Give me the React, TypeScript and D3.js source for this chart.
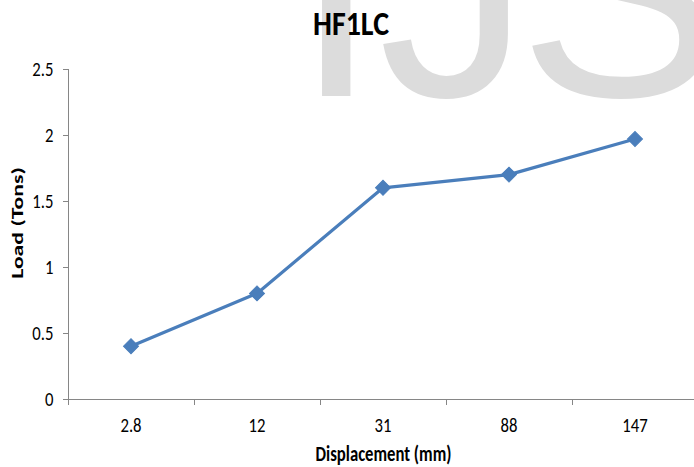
import React from "react";
import * as d3 from "d3";

const categories = ["2.8", "12", "31", "88", "147"];
const loadValues = [0.4, 0.8, 1.6, 1.7, 1.97];
const yTicks = [0, 0.5, 1, 1.5, 2, 2.5];
const yTickLabels = ["0", "0.5", "1", "1.5", "2", "2.5"];
const title = "HF1LC";
const xTitle = "Displacement (mm)";
const yTitle = "Load (Tons)";

const W = 694;
const H = 467;
const LEFT = 68;
const RIGHT = 698;
const TOP = 69;
const BOTTOM = 399;
const FONT = "Carlito, Calibri, 'Liberation Sans Narrow', sans-serif";
const AXIS = "#868686";
const BLUE = "#4a7ebb";
const SY = 1.28; // vertical stretch of the reference's text

export default function App() {
  const x = d3.scaleBand<string>().domain(categories).range([LEFT, RIGHT]).padding(0);
  const y = d3.scaleLinear().domain([0, 2.5]).range([BOTTOM, TOP]);
  const cx = (c: string) => (x(c) ?? 0) + x.bandwidth() / 2;
  const line = d3
    .line<number>()
    .x((_, i) => cx(categories[i]))
    .y((d) => y(d));
  const diamond = d3.symbol().type(d3.symbolSquare).size(112)();
  const boundaries = categories.map((c) => x(c) ?? 0).concat([RIGHT]);

  return (
    <svg width={W} height={H} style={{ position: "absolute", left: 0, top: 0, background: "#fff" }}>
      <rect x={0} y={0} width={W} height={H} fill="#fff" />
      <text
        x={294}
        y={96}
        fontFamily="'Liberation Sans', Arial, sans-serif"
        fontSize={304}
        fill="#dcdcdc"
      >
        IJ<tspan dx={-12}>S</tspan>
      </text>
      <text
        transform={`translate(351,34.5) scale(1,1.14)`}
        textAnchor="middle"
        fontFamily={FONT}
        fontWeight="bold"
        fontSize={30}
        fill="#000"
      >
        {title}
      </text>
      {/* y axis */}
      <line x1={LEFT + 0.5} x2={LEFT + 0.5} y1={TOP} y2={BOTTOM} stroke={AXIS} strokeWidth={1} />
      {yTicks.map((t, i) => (
        <g key={"y" + i}>
          <line x1={LEFT - 5} x2={LEFT} y1={Math.round(y(t)) + 0.5} y2={Math.round(y(t)) + 0.5} stroke={AXIS} />
          <text
            transform={`translate(53.5,${y(t) + 6.6}) scale(1,${SY})`}
            textAnchor="end"
            fontFamily={FONT}
            fontSize={16.7}
            fill="#000"
          >
            {yTickLabels[i]}
          </text>
        </g>
      ))}
      {/* x axis */}
      <line x1={LEFT} x2={W} y1={BOTTOM + 0.5} y2={BOTTOM + 0.5} stroke={AXIS} strokeWidth={1} />
      {boundaries.map((b, i) => (
        <line key={"xt" + i} x1={b + 0.5} x2={b + 0.5} y1={BOTTOM} y2={BOTTOM + 6} stroke={AXIS} />
      ))}
      {categories.map((c) => (
        <text
          key={"xl" + c}
          transform={`translate(${cx(c)},431.5) scale(1,${SY})`}
          textAnchor="middle"
          fontFamily={FONT}
          fontSize={16.7}
          fill="#000"
        >
          {c}
        </text>
      ))}
      <text
        transform={`translate(383.5,460.5) scale(1,${SY})`}
        textAnchor="middle"
        fontFamily={FONT}
        fontWeight="bold"
        fontSize={16.7}
        fill="#000"
      >
        {xTitle}
      </text>
      <text
        transform={`translate(22.5,223) scale(1,1.42) rotate(-90)`}
        textAnchor="middle"
        fontFamily={FONT}
        fontWeight="bold"
        fontSize={16.7}
        fill="#000"
      >
        {yTitle}
      </text>
      {/* series */}
      <path d={line(loadValues) ?? ""} fill="none" stroke={BLUE} strokeWidth={3.2} strokeLinejoin="round" />
      {loadValues.map((v, i) => (
        <path
          key={"m" + i}
          d={diamond ?? ""}
          transform={`translate(${cx(categories[i])},${y(v)}) rotate(45)`}
          fill={BLUE}
          stroke={BLUE}
          strokeWidth={1}
        />
      ))}
    </svg>
  );
}
